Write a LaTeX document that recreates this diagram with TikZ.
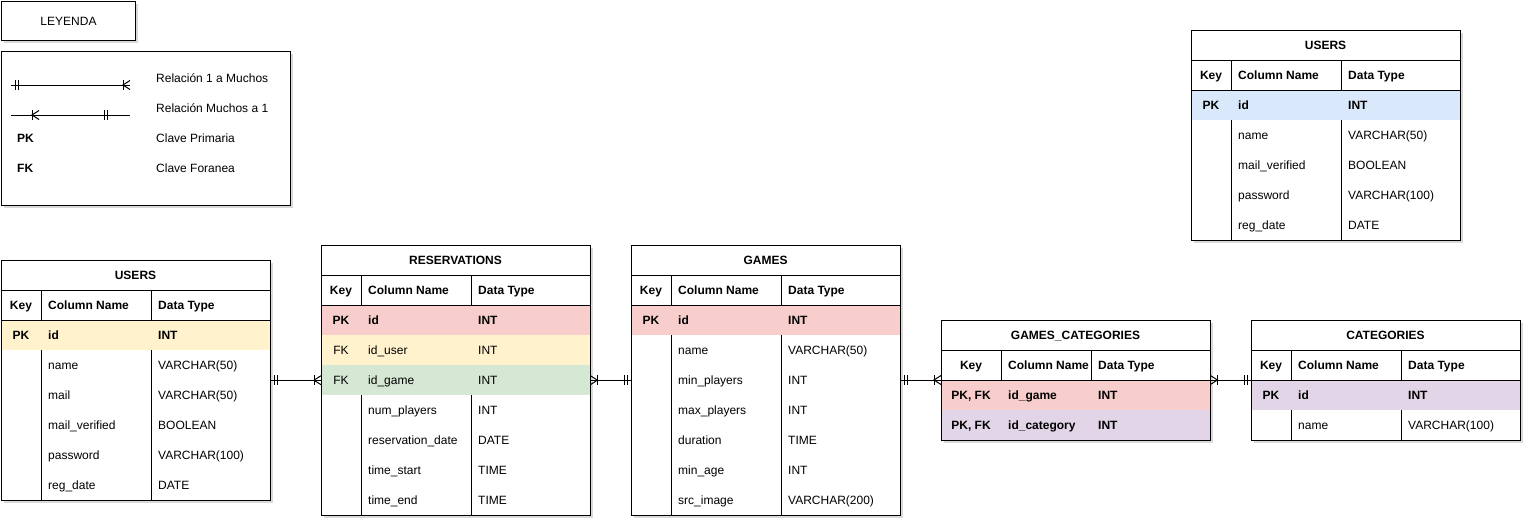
\documentclass[tikz,border=0pt]{standalone}
\usepackage{fontspec}
\setmainfont{Liberation Sans}
\usetikzlibrary{calc}
\definecolor{cyel}{HTML}{FFF2CC}
\definecolor{cred}{HTML}{F8CECC}
\definecolor{cgreen}{HTML}{D5E8D4}
\definecolor{cpurple}{HTML}{E1D5E7}
\definecolor{cblue}{HTML}{DAE8FC}
\tikzset{
  conn/.style={draw=black, line width=1pt},
  lbl/.style={inner sep=0pt, text height=10.6pt, text depth=2.4pt},
  rowbox/.style={draw=none, inner sep=0pt, minimum height=30pt, minimum width=269pt, anchor=north west},
  tbl/.style={draw=none, fill=white, inner sep=0pt, anchor=north west, minimum width=269pt},
  box/.style={draw=black, fill=white, line width=1pt, inner sep=0pt, anchor=north west},
  shadowfill/.style={fill=black, opacity=0.15},
}
\newcommand{\dbar}[2]{%
  \draw[conn] ($(#1)+(#2*4,-5)$) -- ++(0,10) ($(#1)+(#2*7,-5)$) -- ++(0,10);}
\newcommand{\crow}[2]{%
  \draw[conn] ($(#1)+(#2*7,-5)$) -- ++(0,10);
  \draw[conn] ($(#1)+(0,-4.5)$) -- ($(#1)+(#2*7,0)$) -- ($(#1)+(0,4.5)$);}
\newcommand{\tabla}[8]{%
  \pgfmathsetmacro{\tH}{60+30*#7}%
  \fill[shadowfill] ($(#2,#3)+(3,3)$) rectangle ($(#2,#3)+(272,\tH+3)$);
  \node[tbl, minimum height=\tH pt] (#1) at (#2,#3) {};
  \draw[conn] ($(#2,#3)+(#4,30)$) -- ($(#2,#3)+(#4,\tH)$);
  \draw[conn] ($(#2,#3)+(#4+#5,30)$) -- ($(#2,#3)+(#4+#5,\tH)$);
  \foreach \rfill/\rfont/\rk/\rc/\rt [count=\ri] in {#8} {
     \pgfmathsetmacro{\ry}{#3+60+30*(\ri-1)}
     \node[rowbox, fill=\rfill] (#1-r\ri) at (#2,\ry) {};
     \node[lbl] (#1-k\ri) at (#2+#4/2, \ry+15) {\rfont \rk};
     \node[lbl, anchor=west] (#1-c\ri) at (#2+#4+7, \ry+15) {\rfont \rc};
     \node[lbl, anchor=west] (#1-t\ri) at (#2+#4+#5+7, \ry+15) {\rfont \rt};
  }
  \draw[conn] ($(#2,#3)+(0,30)$) -- ++(269,0);
  \draw[conn] ($(#2,#3)+(0,60)$) -- ++(269,0);
  \draw[conn] (#1.north west) rectangle (#1.south east);
  \node[lbl] (#1-title) at (#2+134.5, #3+15) {\bfseries #6};
  \node[lbl] (#1-hk) at (#2+#4/2, #3+45) {\bfseries Key};
  \node[lbl, anchor=west] (#1-hc) at (#2+#4+7, #3+45) {\bfseries Column Name};
  \node[lbl, anchor=west] (#1-ht) at (#2+#4+#5+7, #3+45) {\bfseries Data Type};
}
\begin{document}
\begin{tikzpicture}[x=1pt, y=-1pt, font=\fontsize{12pt}{14pt}\selectfont]
\useasboundingbox (0,0) rectangle (1532,528);

% Legend
\fill[shadowfill] (4,4) rectangle (138,43);
\node[box, minimum width=134pt, minimum height=39pt] (ley) at (1,1) {LEYENDA};
\fill[shadowfill] (4,54) rectangle (293,208);
\node[box, minimum width=289pt, minimum height=154pt] (legbox) at (1,51) {};
\coordinate (l1a) at (11,85);
\coordinate (l1b) at (130,85);
\draw[conn] (l1a) -- (l1b);
\dbar{l1a}{1}
\crow{l1b}{-1}
\coordinate (l2a) at (11,115);
\coordinate (l2b) at (130,115);
\coordinate (l2c) at (39,115);
\coordinate (l2d) at (111,115);
\draw[conn] (l2a) -- (l2b);
\crow{l2c}{-1}
\dbar{l2d}{-1}
\node[lbl, anchor=west] (lt1) at (156,78) {Relación 1 a Muchos};
\node[lbl, anchor=west] (lt2) at (156,108) {Relación Muchos a 1};
\node[lbl, anchor=west] (lpk) at (17,138) {\bfseries PK};
\node[lbl, anchor=west] (lt3) at (156,138) {Clave Primaria};
\node[lbl, anchor=west] (lfk) at (17,168) {\bfseries FK};
\node[lbl, anchor=west] (lt4) at (156,168) {Clave Foranea};

% Tables
\tabla{users}{1}{260}{40}{110}{USERS}{6}{%
  cyel/\bfseries/PK/id/INT,
  none/\mdseries/{}/name/VARCHAR(50),
  none/\mdseries/{}/mail/VARCHAR(50),
  none/\mdseries/{}/mail\_verified/BOOLEAN,
  none/\mdseries/{}/password/VARCHAR(100),
  none/\mdseries/{}/reg\_date/DATE}

\tabla{res}{321}{245}{40}{110}{RESERVATIONS}{7}{%
  cred/\bfseries/PK/id/INT,
  cyel/\mdseries/FK/id\_user/INT,
  cgreen/\mdseries/FK/id\_game/INT,
  none/\mdseries/{}/num\_players/INT,
  none/\mdseries/{}/reservation\_date/DATE,
  none/\mdseries/{}/time\_start/TIME,
  none/\mdseries/{}/time\_end/TIME}

\tabla{games}{631}{245}{40}{110}{GAMES}{7}{%
  cred/\bfseries/PK/id/INT,
  none/\mdseries/{}/name/VARCHAR(50),
  none/\mdseries/{}/min\_players/INT,
  none/\mdseries/{}/max\_players/INT,
  none/\mdseries/{}/duration/TIME,
  none/\mdseries/{}/min\_age/INT,
  none/\mdseries/{}/src\_image/VARCHAR(200)}

\tabla{gc}{941}{320}{60}{90}{GAMES\_CATEGORIES}{2}{%
  cred/\bfseries/{PK, FK}/id\_game/INT,
  cpurple/\bfseries/{PK, FK}/id\_category/INT}

\tabla{cat}{1251}{320}{40}{110}{CATEGORIES}{2}{%
  cpurple/\bfseries/PK/id/INT,
  none/\mdseries/{}/name/VARCHAR(100)}

\tabla{usersb}{1191}{30}{40}{110}{USERS}{5}{%
  cblue/\bfseries/PK/id/INT,
  none/\mdseries/{}/name/VARCHAR(50),
  none/\mdseries/{}/mail\_verified/BOOLEAN,
  none/\mdseries/{}/password/VARCHAR(100),
  none/\mdseries/{}/reg\_date/DATE}

% Connectors
\coordinate (c1a) at (users.east |- res-r3.west);
\draw[conn] (c1a) -- (res-r3.west);
\dbar{c1a}{1}
\crow{res-r3.west}{-1}

\coordinate (c2b) at (games.west |- res-r3.east);
\draw[conn] (res-r3.east) -- (c2b);
\crow{res-r3.east}{1}
\dbar{c2b}{-1}

\coordinate (c3a) at (games.east |- gc-r1.north west);
\draw[conn] (c3a) -- (gc-r1.north west);
\dbar{c3a}{1}
\crow{gc-r1.north west}{-1}

\coordinate (c4b) at (cat.west |- gc-r1.north east);
\draw[conn] (gc-r1.north east) -- (c4b);
\crow{gc-r1.north east}{1}
\dbar{c4b}{-1}
\end{tikzpicture}
\end{document}
